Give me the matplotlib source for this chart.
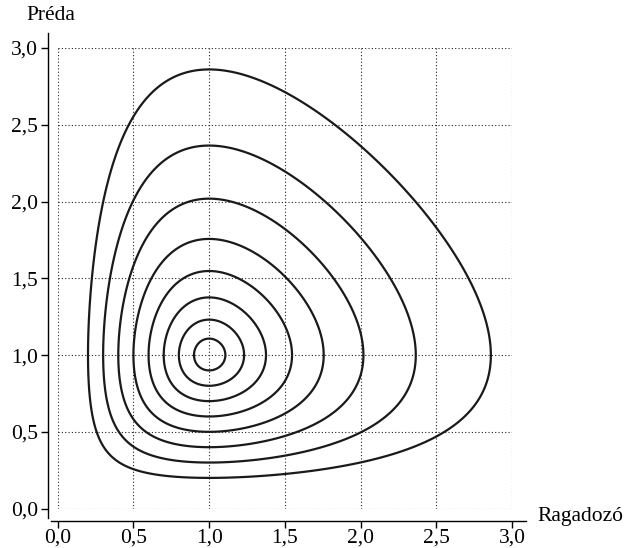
import numpy as np
import matplotlib
matplotlib.use("Agg")
import matplotlib.pyplot as plt

# left crossings of each orbit on the line Préda = 1
x_start = [0.2, 0.3, 0.4, 0.5, 0.6, 0.7, 0.8, 0.9]
ticks = [0.0, 0.5, 1.0, 1.5, 2.0, 2.5, 3.0]
tick_labels = ["0,0", "0,5", "1,0", "1,5", "2,0", "2,5", "3,0"]

plt.rcParams['font.family'] = ['Liberation Serif', 'DejaVu Serif']

fig = plt.figure(figsize=(6.24, 5.48), dpi=100, facecolor='w')
ax = fig.add_axes([0.0925, 0.0719, 0.728, 0.8405])

# conserved quantity of the Lotka-Volterra system, orbits are its level sets
gx, gy = np.meshgrid(np.linspace(0.05, 3.0, 800), np.linspace(0.05, 3.0, 800))
H = gx - np.log(gx) + gy - np.log(gy)
levels = sorted(x0 - np.log(x0) + 1.0 for x0 in x_start)
ax.contour(gx, gy, H, levels=levels, colors='#1a1a1a', linewidths=1.6)

ax.set_xlim(0, 3)
ax.set_ylim(0, 3)
ax.set_xticks(ticks)
ax.set_xticklabels(tick_labels)
ax.set_yticks(ticks)
ax.set_yticklabels(tick_labels)
ax.grid(True, linestyle=(0, (1, 2)), color='#222222', linewidth=0.8)
for gl in ax.get_xgridlines() + ax.get_ygridlines():
    gl.set_clip_on(False)
    gl.set_snap(True)

for s in ['top', 'right']:
    ax.spines[s].set_visible(False)
ax.spines['left'].set_position(('outward', 7))
ax.spines['bottom'].set_position(('outward', 9))
ax.spines['left'].set_bounds(-0.062, 3.1)
ax.spines['bottom'].set_bounds(-0.045, 3.09)
for s in ['left', 'bottom']:
    ax.spines[s].set_linewidth(1.0)
ax.tick_params(direction='out', length=5, width=1.0, labelsize=15.5)
ax.tick_params(axis='x', pad=0.5)
ax.tick_params(axis='y', pad=2)

fig.text(0.082, 0.9635, "Préda", fontsize=15.5, ha='center', va='baseline')
fig.text(0.862, 0.049, "Ragadozó", fontsize=15.5, ha='left', va='baseline')

fig.savefig("out.png", dpi=100)
